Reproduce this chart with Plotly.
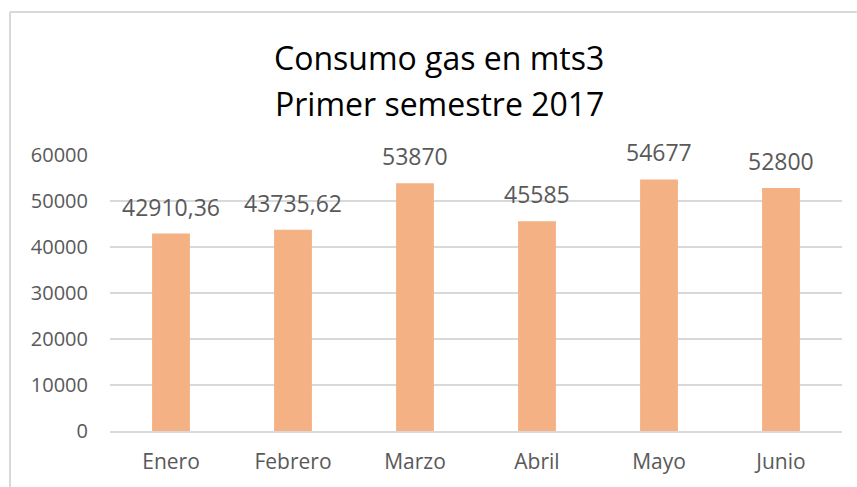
import plotly.graph_objects as go

months = ["Enero", "Febrero", "Marzo", "Abril", "Mayo", "Junio"]
consumo = [42910.36, 43735.62, 53870, 45585, 54677, 52800]
labels = ["42910,36", "43735,62", "53870", "45585", "54677", "52800"]
y_ticks = [0, 10000, 20000, 30000, 40000, 50000, 60000]
y_tick_text = ["0", "10000", "20000", "30000", "40000", "50000", "60000"]
title_lines = ["Consumo gas en mts3", "Primer semestre 2017"]

FONT = "Open Sans, sans-serif"
GRAY = "#595959"
GRID = "#D9D9D9"

# plot area pixel geometry (for placing things outside the axes)
L, R, T, B = 110, 15, 155, 54
PW, PH = 857 - L - R, 487 - T - B


def px_x(x):
    return (x - L) / PW


def px_y(y):
    return (487 - B - y) / PH


fig = go.Figure()
fig.add_trace(go.Bar(x=months, y=consumo, marker=dict(color="#F4B183", line=dict(width=0)),
                     hoverinfo="skip"))

for m, v, t in zip(months, consumo, labels):
    fig.add_annotation(x=m, y=v, text=t, showarrow=False, yanchor="bottom",
                       yshift=9, font=dict(family=FONT, size=23, color=GRAY))

for line, cy in zip(title_lines, [57, 103]):
    fig.add_annotation(xref="paper", yref="paper", x=px_x(439), y=px_y(cy), text=line,
                       showarrow=False, xanchor="center", yanchor="middle",
                       font=dict(family=FONT, size=32, color="#000000"))

fig.update_layout(
    width=857, height=487,
    margin=dict(l=L, r=R, t=T, b=B),
    paper_bgcolor="white", plot_bgcolor="white",
    bargap=0.69, showlegend=False,
    font=dict(family=FONT, color=GRAY),
)
fig.update_xaxes(showline=True, linecolor=GRID, linewidth=1.5, ticks="",
                 tickfont=dict(family=FONT, size=21, color=GRAY), ticklabelstandoff=11,
                 fixedrange=True)
fig.update_yaxes(range=[0, 60000], tickvals=y_ticks, ticktext=y_tick_text, showgrid=True,
                 gridcolor=GRID, gridwidth=1.5, zeroline=False, showline=False,
                 tickfont=dict(family=FONT, size=20, color=GRAY), ticklabelstandoff=21,
                 fixedrange=True)

# chart area border (top and left visible in the crop)
fig.add_shape(type="line", xref="paper", yref="paper",
              x0=px_x(10), x1=px_x(870), y0=px_y(11), y1=px_y(11),
              line=dict(color=GRID, width=2))
fig.add_shape(type="line", xref="paper", yref="paper",
              x0=px_x(10), x1=px_x(10), y0=px_y(11), y1=px_y(500),
              line=dict(color=GRID, width=2))

fig.write_html("out.html", config={"displayModeBar": False},
               post_script="document.body.style.margin='0';document.body.style.overflow='hidden';")
